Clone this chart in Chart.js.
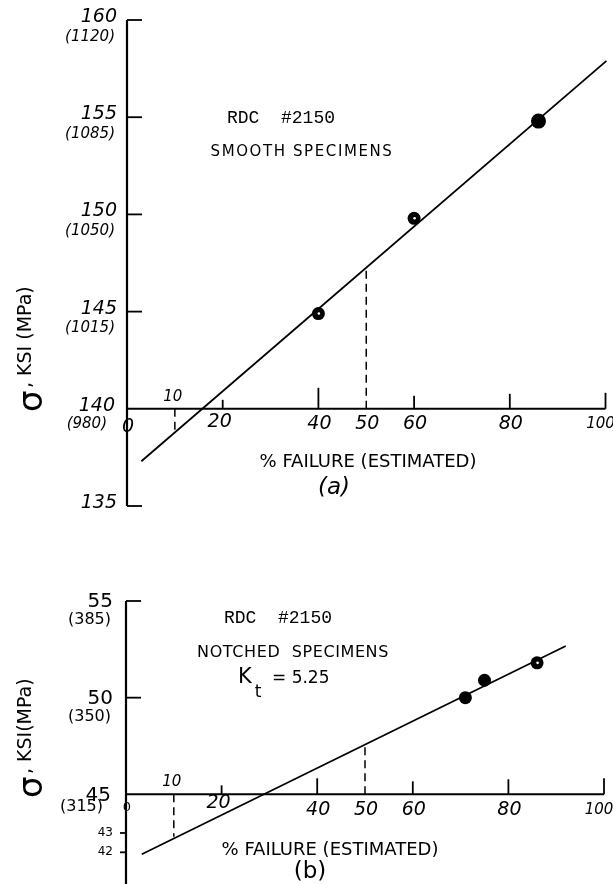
<!DOCTYPE html>
<html>
<head>
<meta charset="utf-8">
<script src="https://cdn.jsdelivr.net/npm/chart.js@4.4.1/dist/chart.umd.min.js"></script>
<style>
  html, body { margin: 0; padding: 0; background: #fff; }
  body { width: 613px; height: 884px; position: relative; overflow: hidden; }
  canvas { position: absolute; left: 0; }
  #ca { top: 0; }
  #cb { top: 540px; }
</style>
</head>
<body>
<canvas id="ca" width="613" height="540"></canvas>
<canvas id="cb" width="613" height="344"></canvas>
<script>
// ---------- data ----------
const pctTicks = [0, 10, 20, 40, 50, 60, 80, 100];
const pctTickLabels = ['0', '10', '20', '40', '50', '60', '80', '100'];

// (a) smooth specimens
const smoothFailurePct = [40, 60, 86];
const smoothStressKsi = [144.9, 149.8, 154.8];
const smoothMarker = ['dot', 'dot', 'solid'];
const smoothFitPct = [3, 100.2];
const smoothFitKsi = [137.3, 157.9];
const smoothKsiTicks = [160, 155, 150, 145, 140, 135];
const smoothMpaLabels = ['(1120)', '(1085)', '(1050)', '(1015)', '(980)', ''];
const smoothGuidePct = [10, 50];
const smoothGuideKsi = [138.75, 147.24];

// (b) notched specimens
const notchedFailurePct = [71, 75, 86];
const notchedStressKsi = [50.0, 50.9, 51.8];
const notchedMarker = ['solid', 'solid', 'dot'];
const notchedFitPct = [3.3, 92];
const notchedFitKsi = [41.9, 52.67];
const notchedKsiTicks = [55, 50, 45, 43, 42];
const notchedMpaLabels = ['(385)', '(350)', '(315)', '', ''];
const notchedGuidePct = [10, 50];
const notchedGuideKsi = [42.8, 47.64];

const HAND = '"DejaVu Sans", "Liberation Sans", sans-serif';
const MONO = '"Liberation Mono", "DejaVu Sans Mono", monospace';

function pts(xs, ys) { return xs.map((x, i) => ({ x: x, y: ys[i] })); }

function buildDatasets(px, py, fitX, fitY, gX, gY, baseY, radii) {
  const ds = [];
  ds.push({ data: pts(fitX, fitY), showLine: true, borderColor: '#000', borderWidth: 1.8, pointRadius: 0, clip: false });
  gX.forEach((gx, i) => {
    ds.push({ data: [{ x: gx, y: baseY }, { x: gx, y: gY[i] }], showLine: true, borderColor: '#000',
      borderWidth: 1.5, borderDash: [8, 5], pointRadius: 0, clip: false });
  });
  ds.push({ data: pts(px, py), showLine: false, pointRadius: radii, pointHoverRadius: radii,
    backgroundColor: '#000', borderColor: '#000', borderWidth: 0, clip: false });
  return ds;
}

function txt(ctx, s, x, y, font, align) {
  ctx.font = font;
  ctx.textAlign = align || 'center';
  ctx.textBaseline = 'middle';
  ctx.fillText(s, x, y);
}

function makeAxesPlugin(cfg) {
  return {
    id: 'handAxes' + cfg.id,
    afterDatasetsDraw(chart) {
      const ctx = chart.ctx;
      const xs = chart.scales.x, ys = chart.scales.y;
      ctx.save();
      ctx.fillStyle = '#000';
      ctx.strokeStyle = '#000';
      ctx.lineCap = 'butt';
      // markers with white dot
      const meta = chart.getDatasetMeta(chart.data.datasets.length - 1);
      meta.data.forEach((el, i) => {
        if (cfg.markers[i] === 'dot') {
          ctx.fillStyle = '#fff';
          ctx.beginPath();
          ctx.arc(el.x + 0.5, el.y, 1.3, 0, Math.PI * 2);
          ctx.fill();
        }
      });
      ctx.fillStyle = '#000';

      const x0 = xs.getPixelForValue(0);
      const axisY = ys.getPixelForValue(cfg.baseY);
      // vertical axis
      ctx.lineWidth = 2.2;
      ctx.beginPath();
      ctx.moveTo(x0, ys.getPixelForValue(cfg.ksiTicks[0]));
      ctx.lineTo(x0, cfg.axisBottom);
      ctx.stroke();
      // horizontal axis
      ctx.lineWidth = 2;
      ctx.beginPath();
      ctx.moveTo(x0, axisY);
      ctx.lineTo(xs.getPixelForValue(100), axisY);
      ctx.stroke();

      // y ticks and labels
      cfg.ksiTicks.forEach((v, i) => {
        const yp = ys.getPixelForValue(v);
        if (v === cfg.baseY) return;
        ctx.lineWidth = 1.8;
        ctx.beginPath();
        if (cfg.leftTicks.includes(v)) {
          ctx.moveTo(x0 - 6, yp); ctx.lineTo(x0, yp);
        } else {
          ctx.moveTo(x0, yp); ctx.lineTo(x0 + 15, yp);
        }
        ctx.stroke();
      });
      cfg.ksiTicks.forEach((v, i) => {
        const yp = ys.getPixelForValue(v);
        const small = cfg.leftTicks.includes(v);
        const right = (v === cfg.baseY) ? cfg.labelRight - 2 : cfg.labelRight;
        txt(ctx, String(v), right, yp + (small ? 0 : cfg.ksiDy), small ? cfg.smallFont : cfg.ksiFont, 'right');
        if (cfg.mpa[i]) {
          const r2 = (v === cfg.baseY) ? cfg.labelRight - 10 : cfg.labelRight - 2;
          txt(ctx, cfg.mpa[i], r2, yp + (v === cfg.baseY ? cfg.mpaBaseDy : cfg.mpaDy), cfg.mpaFont, 'right');
        }
      });
      // "0" at origin
      txt(ctx, '0', x0 + 1, axisY + cfg.zeroDy, cfg.zeroFont, 'center');

      // x ticks
      const upLen = { 20: 9, 40: cfg.len40, 60: 13, 80: 15, 100: 16 };
      pctTicks.forEach((p, i) => {
        const xp = xs.getPixelForValue(p);
        if (upLen[p]) {
          ctx.lineWidth = 1.8;
          ctx.beginPath();
          ctx.moveTo(xp, axisY); ctx.lineTo(xp, axisY - upLen[p]);
          ctx.stroke();
        }
        if (p === 0) return;
        if (p === 10) {
          txt(ctx, pctTickLabels[i], xp - 2, axisY - 12, cfg.tenFont, 'center');
        } else if (p === 20) {
          txt(ctx, pctTickLabels[i], xp - 3, axisY + cfg.twentyDy, cfg.tickFont, 'center');
        } else if (p === 100) {
          txt(ctx, pctTickLabels[i], xp - 5, axisY + cfg.tickDy, cfg.hundredFont, 'center');
        } else {
          txt(ctx, pctTickLabels[i], xp + 1, axisY + cfg.tickDy, cfg.tickFont, 'center');
        }
      });

      // y axis title (rotated)
      ctx.save();
      ctx.translate(cfg.titleX, cfg.titleY);
      ctx.rotate(-Math.PI / 2);
      ctx.textBaseline = 'middle';
      ctx.textAlign = 'left';
      ctx.font = '34px ' + HAND;
      ctx.fillText('σ', 0, 3);
      ctx.font = '19px ' + HAND;
      ctx.fillText(cfg.yTitleRest, 24, -4);
      ctx.restore();

      // annotations
      cfg.texts.forEach(t => {
        ctx.save();
        if (t.ls) ctx.letterSpacing = t.ls;
        txt(ctx, t.s, t.x, t.y, t.f, t.a || 'center');
        ctx.restore();
      });
      ctx.restore();
    }
  };
}

function makeChart(id, datasets, xr, yr, padding, plugin) {
  return new Chart(document.getElementById(id), {
    type: 'scatter',
    data: { datasets: datasets },
    options: {
      responsive: false,
      animation: false,
      devicePixelRatio: 1,
      layout: { padding: padding },
      plugins: { legend: { display: false }, tooltip: { enabled: false }, title: { display: false } },
      scales: {
        x: { type: 'linear', min: xr[0], max: xr[1], display: false },
        y: { type: 'linear', min: yr[0], max: yr[1], display: false }
      },
      events: []
    },
    plugins: [plugin]
  });
}

// ---------- panel (a) ----------
makeChart('ca',
  buildDatasets(smoothFailurePct, smoothStressKsi, smoothFitPct, smoothFitKsi,
    smoothGuidePct, smoothGuideKsi, 140, [6.5, 6.5, 7.5]),
  [0, 100], [135, 160], { left: 127, right: 7, top: 20, bottom: 34 },
  makeAxesPlugin({
    id: 'a', markers: smoothMarker, baseY: 140, ksiTicks: smoothKsiTicks, mpa: smoothMpaLabels,
    leftTicks: [], axisBottom: 506, labelRight: 117, ksiDy: -3, mpaDy: 17, mpaBaseDy: 15,
    ksiFont: 'italic 19px ' + HAND, mpaFont: 'italic 15px ' + HAND, smallFont: 'italic 13px ' + HAND,
    zeroFont: 'italic 19px ' + HAND, zeroDy: 18,
    tickFont: 'italic 19px ' + HAND, tenFont: 'italic 15px ' + HAND, hundredFont: 'italic 15px ' + HAND,
    tickDy: 15, twentyDy: 13, len40: 21,
    titleX: 30, titleY: 412, yTitleRest: ', KSI (MPa)',
    texts: [
      { s: 'RDC  #2150', x: 281, y: 118, f: '18px ' + MONO },
      { s: 'SMOOTH SPECIMENS', x: 302, y: 152, f: '15px ' + HAND, ls: '1.6px' },
      { s: '% FAILURE (ESTIMATED)', x: 368, y: 462, f: '18px ' + HAND },
      { s: '(a)', x: 334, y: 488, f: 'italic 23px ' + HAND }
    ]
  })
);

// ---------- panel (b) ----------
makeChart('cb',
  buildDatasets(notchedFailurePct, notchedStressKsi, notchedFitPct, notchedFitKsi,
    notchedGuidePct, notchedGuideKsi, 45, [6.5, 6.5, 6.5]),
  [0, 100], [41.5, 55], { left: 126, right: 9, top: 61, bottom: 22 },
  makeAxesPlugin({
    id: 'b', markers: notchedMarker, baseY: 45, ksiTicks: notchedKsiTicks, mpa: notchedMpaLabels,
    leftTicks: [43, 42], axisBottom: 344, labelRight: 113, ksiDy: 1, mpaDy: 19, mpaBaseDy: 13,
    ksiFont: '20px ' + HAND, mpaFont: '16px ' + HAND, smallFont: '12px ' + HAND,
    zeroFont: '13px ' + HAND, zeroDy: 13,
    tickFont: 'italic 19px ' + HAND, tenFont: 'italic 15px ' + HAND, hundredFont: 'italic 15px ' + HAND,
    tickDy: 16, twentyDy: 9, len40: 16,
    titleX: 30, titleY: 258, yTitleRest: ', KSI(MPa)',
    texts: [
      { s: 'RDC  #2150', x: 278, y: 78, f: '18px ' + MONO },
      { s: 'NOTCHED  SPECIMENS', x: 293, y: 113, f: '16px ' + HAND, ls: '0.6px' },
      { s: 'K', x: 245, y: 138, f: '21px ' + HAND },
      { s: 't', x: 258, y: 153, f: '17px ' + HAND },
      { s: '= 5.25', x: 272, y: 139, f: '17px ' + HAND, a: 'left' },
      { s: '% FAILURE (ESTIMATED)', x: 330, y: 310, f: '18px ' + HAND },
      { s: '(b)', x: 310, y: 332, f: '23px ' + HAND }
    ]
  })
);
</script>
</body>
</html>
